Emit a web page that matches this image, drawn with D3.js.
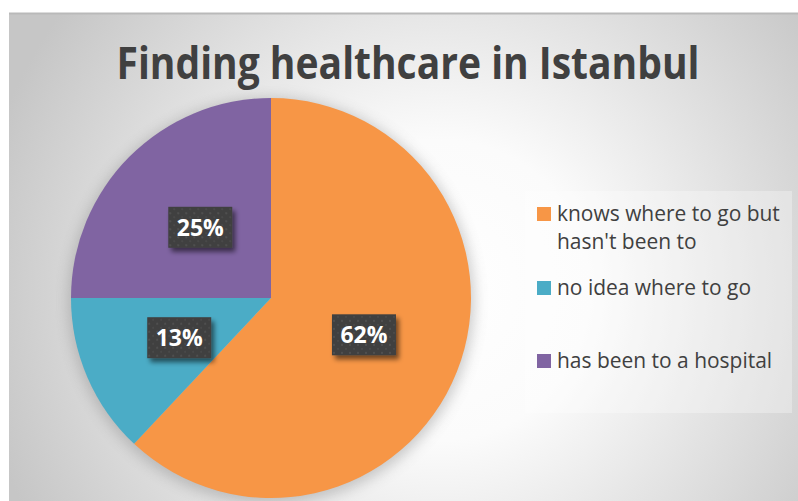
<!DOCTYPE html>
<html>
<head>
<meta charset="utf-8">
<script src="https://cdn.jsdelivr.net/npm/d3@7/dist/d3.min.js"></script>
<style>
  html, body { margin: 0; padding: 0; background: #fff; }
  svg { display: block; }
</style>
</head>
<body>
<div id="chart"></div>
<script>
const title = "Finding healthcare in Istanbul";
const categories = ["knows where to go but hasn't been to", "no idea where to go", "has been to a hospital"];
const legendLines = [["knows where to go but", "hasn't been to"], ["no idea where to go"], ["has been to a hospital"]];
const values = [62, 13, 25];
const colors = ["#F79646", "#4BACC6", "#8064A2"];

const W = 798, H = 501;
const svg = d3.select("#chart").append("svg").attr("width", W).attr("height", H);
const defs = svg.append("defs");

// background gradient
const grad = defs.append("radialGradient").attr("id", "bg")
  .attr("gradientUnits", "userSpaceOnUse")
  .attr("cx", 440).attr("cy", 290).attr("r", 470);
grad.append("stop").attr("offset", 0).attr("stop-color", "#ffffff");
grad.append("stop").attr("offset", 0.32).attr("stop-color", "#fbfbfb");
grad.append("stop").attr("offset", 1).attr("stop-color", "#c6c6c6");

// pie shadow
const ps = defs.append("filter").attr("id", "pieShadow").attr("x", "-30%").attr("y", "-30%").attr("width", "160%").attr("height", "160%");
ps.append("feGaussianBlur").attr("stdDeviation", 7);

// label box shadow
const ls = defs.append("filter").attr("id", "boxShadow").attr("x", "-30%").attr("y", "-30%").attr("width", "170%").attr("height", "170%");
ls.append("feGaussianBlur").attr("in", "SourceAlpha").attr("stdDeviation", 2.5).attr("result", "b");
ls.append("feOffset").attr("in", "b").attr("dx", 3).attr("dy", 4).attr("result", "o");
ls.append("feComponentTransfer").attr("in", "o").attr("result", "o2")
  .append("feFuncA").attr("type", "linear").attr("slope", 0.55);
const lm = ls.append("feMerge");
lm.append("feMergeNode").attr("in", "o2");
lm.append("feMergeNode").attr("in", "SourceGraphic");

// dot pattern
const pat = defs.append("pattern").attr("id", "dots").attr("patternUnits", "userSpaceOnUse")
  .attr("width", 8).attr("height", 8);
pat.append("rect").attr("width", 8).attr("height", 8).attr("fill", "#3f3f3f");
pat.append("circle").attr("cx", 2).attr("cy", 2).attr("r", 1).attr("fill", "#555");
pat.append("circle").attr("cx", 6).attr("cy", 6).attr("r", 1).attr("fill", "#4c4c4c");

// chart area
svg.append("rect").attr("x", 9).attr("y", 13).attr("width", W - 9).attr("height", H - 13).attr("fill", "url(#bg)");
svg.append("line").attr("x1", 9).attr("x2", W).attr("y1", 13.5).attr("y2", 13.5).attr("stroke", "#b9b9b9").attr("stroke-width", 2);

// title
const t = svg.append("text").attr("x", 408).attr("y", 79).attr("text-anchor", "middle")
  .attr("font-family", "'Open Sans', 'Noto Sans', sans-serif").attr("font-weight", 700)
  .attr("font-size", 45).attr("fill", "#404040").text(title);
t.attr("textLength", 583).attr("lengthAdjust", "spacingAndGlyphs");

// pie
const cx = 271, cy = 298, R = 200;
const pie = d3.pie().sort(null).value(d => d);
const arcs = pie(values);
const arc = d3.arc().innerRadius(0).outerRadius(R);
const labelArc = d3.arc().innerRadius(R / 2).outerRadius(R / 2);
const g = svg.append("g").attr("transform", `translate(${cx},${cy})`);
g.append("circle").attr("cx", 0).attr("cy", 3).attr("r", R + 3).attr("fill", "#8a8a8a").attr("opacity", 0.45).attr("filter", "url(#pieShadow)");
g.selectAll("path.slice").data(arcs).join("path").attr("class", "slice")
  .attr("d", arc).attr("fill", (d, i) => colors[i]);

// labels
const lab = g.selectAll("g.lab").data(arcs).join("g").attr("class", "lab")
  .attr("transform", d => `translate(${labelArc.centroid(d)})`);
lab.append("rect").attr("x", -32).attr("y", -20.5).attr("width", 64).attr("height", 41)
  .attr("fill", "url(#dots)").attr("filter", "url(#boxShadow)");
lab.append("text").attr("text-anchor", "middle").attr("dy", "0.36em")
  .attr("font-family", "'Open Sans', 'Noto Sans', sans-serif").attr("font-weight", 700)
  .attr("font-size", 23).attr("fill", "#ffffff")
  .text(d => Math.round(d.value / d3.sum(values) * 100) + "%");

// legend
svg.append("rect").attr("x", 525).attr("y", 191).attr("width", 267).attr("height", 222)
  .attr("fill", "#ffffff").attr("opacity", 0.3);
const legendY = [221, 295, 368];
const lg = svg.selectAll("g.leg").data(categories).join("g").attr("class", "leg")
  .attr("transform", (d, i) => `translate(537,${legendY[i]})`);
lg.append("rect").attr("x", 0).attr("y", -14).attr("width", 14).attr("height", 14)
  .attr("fill", (d, i) => colors[i]);
const lt = lg.append("text").attr("x", 20).attr("y", 0)
  .attr("font-family", "'Open Sans', 'Noto Sans', sans-serif").attr("font-size", 19)
  .attr("fill", "#404040");
lt.selectAll("tspan").data((d, i) => legendLines[i]).join("tspan")
  .attr("x", 20).attr("dy", (d, j) => j === 0 ? 0 : 28).text(d => d);
// fit legend font to reference width of first line
const first = lt.select("tspan").node();
const w = first.getComputedTextLength();
const fs = 19 * 223 / w;
lt.attr("font-size", fs);
</script>
</body>
</html>
